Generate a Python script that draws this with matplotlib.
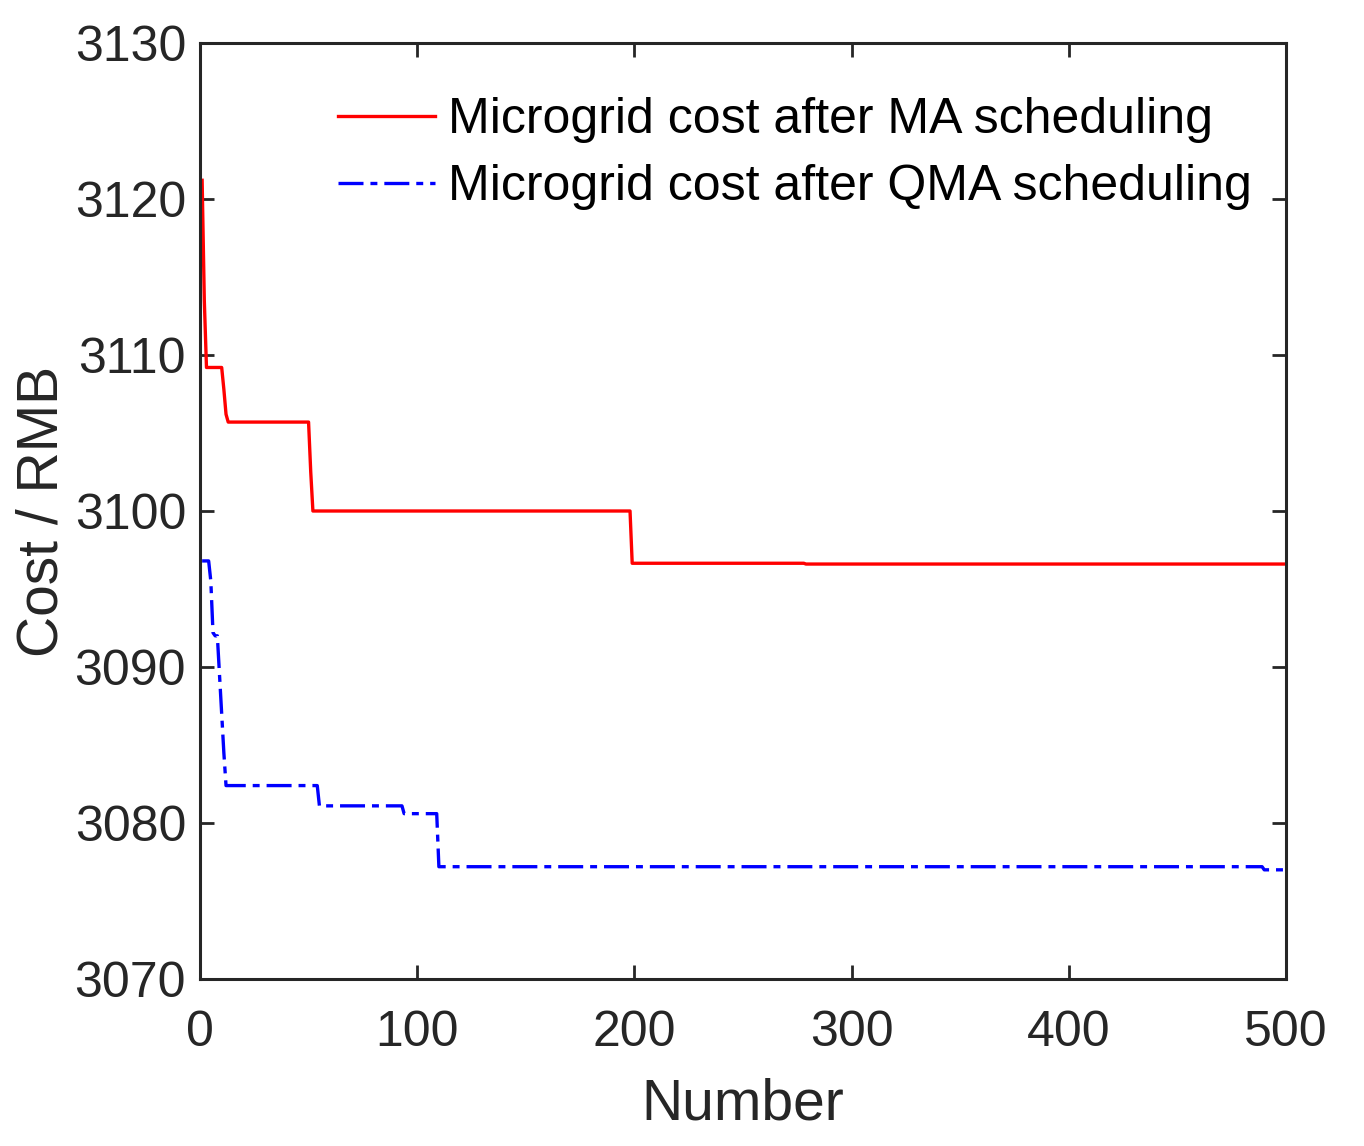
import numpy as np
import matplotlib.pyplot as plt

plt.rcParams['font.family'] = ['Liberation Sans', 'DejaVu Sans']
plt.rcParams['lines.scale_dashes'] = False

# iteration breakpoints and cost values
ma_iter = [1, 2, 3, 10, 11, 12, 13, 50, 51, 52, 198, 199, 278, 279, 500]
ma_cost = [3121.2, 3113.5, 3109.2, 3109.2, 3107.8, 3106.2, 3105.7, 3105.7,
           3102.5, 3100.0, 3100.0, 3096.65, 3096.65, 3096.6, 3096.6]

qma_iter = [1, 4, 5, 6, 7, 8, 9, 10, 11, 12, 54, 55, 93, 94, 109, 110, 489, 490, 500]
qma_cost = [3096.8, 3096.8, 3095.5, 3092.2, 3092.0, 3092.0, 3089.5, 3087.0,
            3084.5, 3082.4, 3082.4, 3081.1, 3081.1, 3080.6, 3080.6, 3077.2,
            3077.2, 3077.0, 3077.0]

xticks = [0, 100, 200, 300, 400, 500]
yticks = [3070, 3080, 3090, 3100, 3110, 3120, 3130]

txt = '#262626'

fig = plt.figure(figsize=(13.64, 11.46), dpi=100)
ax = fig.add_axes([0.1466, 0.1457, 0.7962, 0.8168])

ax.plot(ma_iter, ma_cost, color='red', lw=2.4,
        label='Microgrid cost after MA scheduling')
ax.plot(qma_iter, qma_cost, color='blue', lw=2.4, linestyle=(0, (18, 5, 5, 5)),
        label='Microgrid cost after QMA scheduling')

ax.set_xlim(0, 500)
ax.set_ylim(3070, 3130)
ax.set_xticks(xticks)
ax.set_yticks(yticks)
ax.tick_params(direction='in', length=10, width=2, top=True, right=True,
               labelsize=36, colors=txt)
ax.tick_params(axis='x', pad=22)
ax.tick_params(axis='y', pad=10)
for s in ax.spines.values():
    s.set_linewidth(2.2)
    s.set_color(txt)

ax.set_xlabel('Number', fontsize=41, color=txt, labelpad=16)
ax.set_ylabel('Cost / RMB', fontsize=41, color=txt, labelpad=4)

leg = ax.legend(loc='upper right', bbox_to_anchor=(1.01, 0.99), frameon=False,
                fontsize=36, handlelength=1.95, handletextpad=0.25,
                labelspacing=0.42)

fig.savefig('out.png', dpi=100)
